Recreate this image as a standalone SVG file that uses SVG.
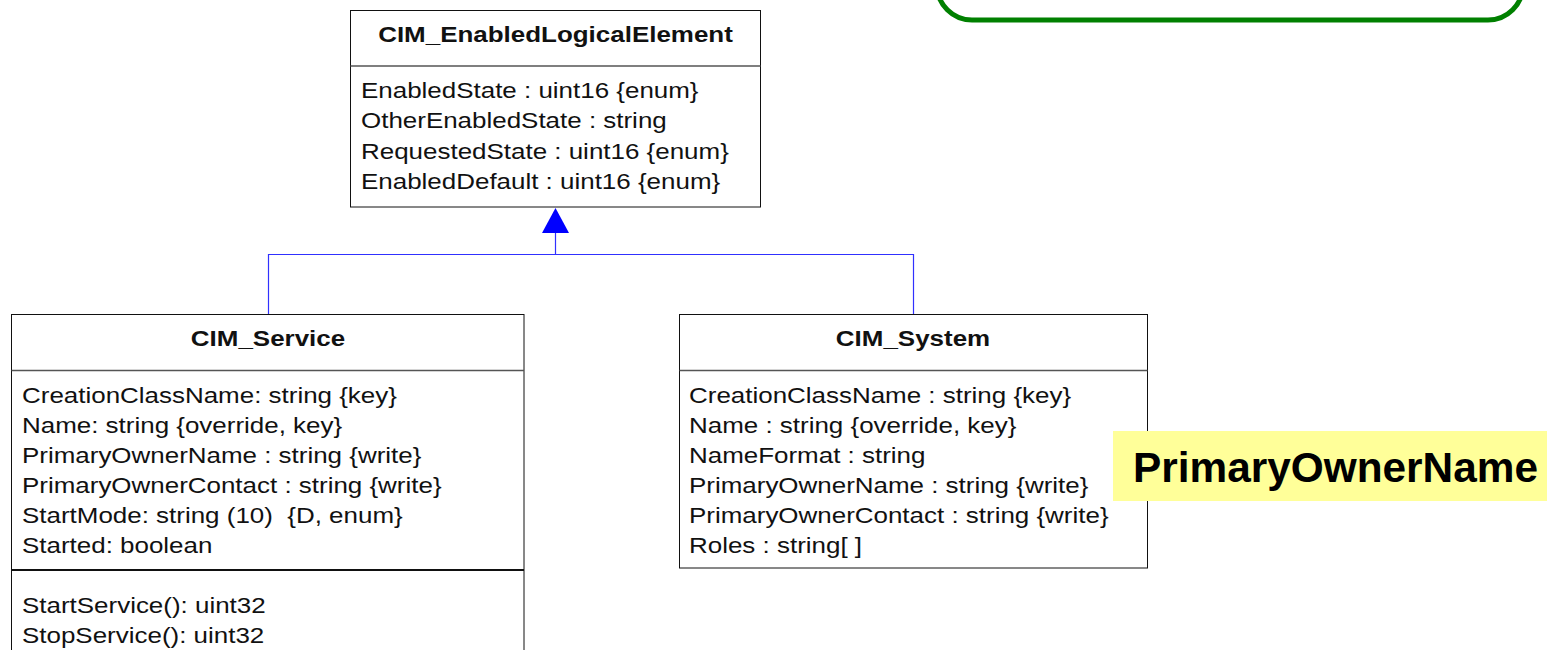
<svg xmlns="http://www.w3.org/2000/svg" width="1547" height="650" viewBox="0 0 1547 650">
<style>
.box{fill:#fff;stroke:#111;stroke-width:1}
.hdr{stroke:#555;stroke-width:1.5}
.sep{stroke:#111;stroke-width:2}
.t{font-family:"Liberation Sans",Arial,sans-serif;font-size:22px;fill:#111}
.ttl{font-family:"Liberation Sans",Arial,sans-serif;font-size:22px;font-weight:bold;fill:#111;text-anchor:middle}
.conn{stroke:#3030ff;stroke-width:1.2;fill:none}
</style>
<rect x="0" y="0" width="1547" height="650" fill="#fff"/>
<g id="banner">
<rect x="937" y="-60" width="586" height="80" rx="35" ry="35" fill="#fff" stroke="#008000" stroke-width="5"/>
</g>
<g id="connectors">
<path class="conn" d="M268.5 314.5 V254.5 H913.5 V314.5 M555.5 254.5 V232"/>
<polygon points="555.5,208 542,233 569,233" fill="#0000ff"/>
</g>
<g id="CIM_EnabledLogicalElement">
<rect class="box" x="350.5" y="10.5" width="410" height="196.5"/>
<line class="hdr" x1="350.5" y1="66" x2="760.5" y2="66"/>
<text class="ttl" transform="translate(555.5 42) scale(1.18 1)">CIM_EnabledLogicalElement</text>
<text class="t" transform="translate(361 97.5) scale(1.18 1)">EnabledState : uint16 {enum}</text>
<text class="t" transform="translate(361 128) scale(1.18 1)">OtherEnabledState : string</text>
<text class="t" transform="translate(361 158.5) scale(1.18 1)">RequestedState : uint16 {enum}</text>
<text class="t" transform="translate(361 189) scale(1.18 1)">EnabledDefault : uint16 {enum}</text>
</g>
<g id="CIM_Service">
<rect class="box" x="11.5" y="314.5" width="512.5" height="350"/>
<line class="hdr" x1="11.5" y1="370.5" x2="524" y2="370.5"/>
<line class="sep" x1="11.5" y1="570" x2="524" y2="570"/>
<text class="ttl" transform="translate(268 346) scale(1.18 1)">CIM_Service</text>
<text class="t" transform="translate(22 403) scale(1.18 1)">CreationClassName: string {key}</text>
<text class="t" transform="translate(22 433) scale(1.18 1)">Name: string {override, key}</text>
<text class="t" transform="translate(22 463) scale(1.18 1)">PrimaryOwnerName : string {write}</text>
<text class="t" transform="translate(22 493) scale(1.18 1)">PrimaryOwnerContact : string {write}</text>
<text class="t" transform="translate(22 523) scale(1.18 1)">StartMode: string (10)&#160; {D, enum}</text>
<text class="t" transform="translate(22 553) scale(1.18 1)">Started: boolean</text>
<text class="t" transform="translate(22 613) scale(1.18 1)">StartService(): uint32</text>
<text class="t" transform="translate(22 643) scale(1.18 1)">StopService(): uint32</text>
</g>
<g id="CIM_System">
<rect class="box" x="679.5" y="314.5" width="468" height="253.5"/>
<line class="hdr" x1="679.5" y1="370.5" x2="1147.5" y2="370.5"/>
<text class="ttl" transform="translate(913 346) scale(1.18 1)">CIM_System</text>
<text class="t" transform="translate(689 403) scale(1.18 1)">CreationClassName : string {key}</text>
<text class="t" transform="translate(689 433) scale(1.18 1)">Name : string {override, key}</text>
<text class="t" transform="translate(689 463) scale(1.18 1)">NameFormat : string</text>
<text class="t" transform="translate(689 493) scale(1.18 1)">PrimaryOwnerName : string {write}</text>
<text class="t" transform="translate(689 523) scale(1.18 1)">PrimaryOwnerContact : string {write}</text>
<text class="t" transform="translate(689 553) scale(1.18 1)">Roles : string[ ]</text>
</g>
<g id="highlight">
<rect x="1113" y="431" width="434" height="70" fill="#ffff99"/>
<text x="1133" y="482" font-family="'Liberation Sans',Arial,sans-serif" font-size="42" font-weight="bold" fill="#000" textLength="405" lengthAdjust="spacingAndGlyphs">PrimaryOwnerName</text>
</g>
</svg>
